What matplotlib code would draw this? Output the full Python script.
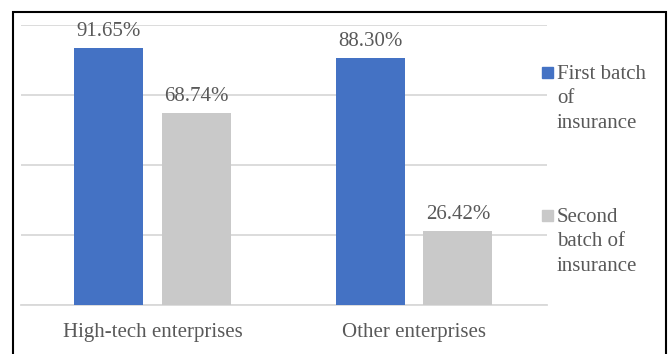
import matplotlib.pyplot as plt
from matplotlib.patches import Rectangle

# Data
categories = ['High-tech enterprises', 'Other enterprises']
first_batch = [91.65, 88.30]
second_batch = [68.74, 26.42]
series_labels = ['First batch\nof\ninsurance', 'Second\nbatch of\ninsurance']

blue = '#4472C4'
gray = '#C9C9C9'
text_color = '#595959'

plt.rcParams['font.family'] = ['Liberation Serif', 'DejaVu Serif']

W, H = 671, 354
fig = plt.figure(figsize=(W / 100, H / 100), dpi=100)
ax = fig.add_axes([21 / W, 1 - 305 / H, 526 / W, 280 / H])

x = list(range(len(categories)))
w = 0.264
off = 0.168
b1 = ax.bar([i - off for i in x], first_batch, width=w, color=blue, zorder=3)
b2 = ax.bar([i + off for i in x], second_batch, width=w, color=gray, zorder=3)

for bars, vals in ((b1, first_batch), (b2, second_batch)):
    for bar, v in zip(bars, vals):
        ax.annotate(f'{v:.2f}%', (bar.get_x() + bar.get_width() / 2, v),
                    xytext=(0, 5), textcoords='offset points',
                    ha='center', va='bottom', fontsize=15, color=text_color)

ax.set_xlim(-0.503, 1.509)
ax.set_ylim(0, 100)
ax.set_yticks([0, 25, 50, 75, 100])
ax.yaxis.grid(True, color='#D9D9D9', linewidth=1.3, zorder=0)
ax.tick_params(axis='y', left=False, labelleft=False)
ax.set_xticks(x)
ax.set_xticklabels(categories, fontsize=15, color=text_color)
ax.tick_params(axis='x', length=0, pad=13)
for side in ('top', 'right', 'left'):
    ax.spines[side].set_visible(False)
ax.spines['bottom'].set_color('#D9D9D9')
ax.spines['bottom'].set_linewidth(1.3)

# legend, drawn by hand: square aligned with the first line of each label
legend_rows = [(blue, series_labels[0], 72), (gray, series_labels[1], 215)]
for color, label, yc in legend_rows:
    fig.add_artist(Rectangle((542 / W, 1 - (yc + 5.5) / H), 11 / W, 11 / H,
                             transform=fig.transFigure, color=color))
    fig.text(557 / W, 1 - (yc - 7) / H, label, transform=fig.transFigure,
             ha='left', va='top', fontsize=15, color=text_color,
             linespacing=1.39)

# outer frame
fig.add_artist(Rectangle((13 / W, -0.05), 653 / W, (H - 12) / H + 0.05,
                         transform=fig.transFigure, fill=False,
                         edgecolor='black', linewidth=1.5))

fig.savefig('out.png', dpi=100)
